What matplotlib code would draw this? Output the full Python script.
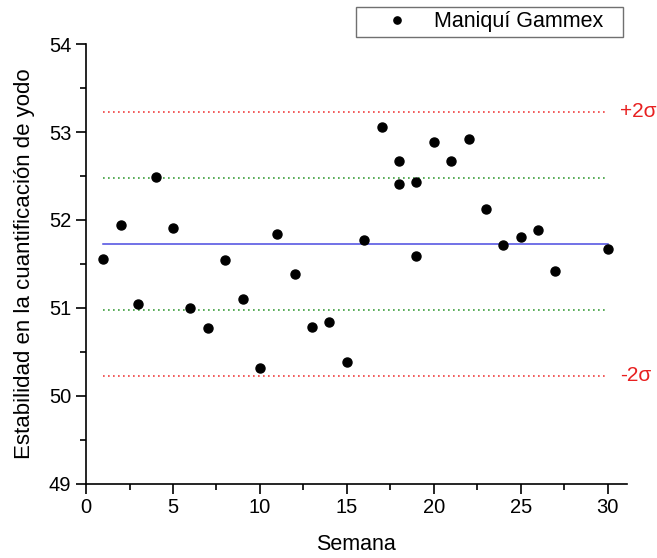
import matplotlib
matplotlib.use('Agg')
import matplotlib.pyplot as plt
from matplotlib.ticker import MultipleLocator

plt.rcParams['font.family'] = ['Liberation Sans', 'DejaVu Sans']

# === Data ===
semana = [1, 2, 3, 4, 5, 6, 7, 8, 9, 10, 11, 12, 13, 14, 15, 16, 17,
          18, 18, 19, 19, 20, 21, 22, 23, 24, 25, 26, 27, 30]
yodo = [51.56, 51.94, 51.05, 52.49, 51.91, 51.00, 50.77, 51.55, 51.10, 50.32,
        51.84, 51.38, 50.78, 50.84, 50.39, 51.77, 53.06, 52.67, 52.41, 52.43,
        51.59, 52.89, 52.67, 52.92, 52.12, 51.72, 51.81, 51.89, 51.42, 51.67]

media = 51.73
limites_1s = [50.98, 52.48]
limites_2s = [50.23, 53.23]
rango_lineas = [1, 30]

fig = plt.figure(figsize=(6.57, 5.58), dpi=100)
ax = fig.add_axes([0.131, 0.133, 0.823, 0.788])

ax.plot(semana, yodo, 'o', color='black', markersize=6.5, label='Maniquí Gammex', zorder=3)
ax.plot(rango_lineas, [media, media], color='#4a4ae0', linewidth=1.1)
for v in limites_1s:
    ax.plot(rango_lineas, [v, v], color='#3c9e3c', linestyle=(0, (1, 2)), linewidth=1.2)
for v in limites_2s:
    ax.plot(rango_lineas, [v, v], color='#f04040', linestyle=(0, (1, 2)), linewidth=1.2)

ax.text(30.7, limites_2s[1], '+2σ', color='#e82020', fontsize=15, va='center', ha='left', clip_on=False)
ax.text(30.7, limites_2s[0], '-2σ', color='#e82020', fontsize=15, va='center', ha='left', clip_on=False)

ax.set_xlim(0, 31.1)
ax.set_ylim(49, 54)
ax.set_xticks([0, 5, 10, 15, 20, 25, 30])
ax.set_yticks([49, 50, 51, 52, 53, 54])
ax.xaxis.set_minor_locator(MultipleLocator(2.5))
ax.yaxis.set_minor_locator(MultipleLocator(0.5))
ax.tick_params(which='major', direction='out', length=7, width=1.2, labelsize=14.5)
ax.tick_params(which='minor', direction='out', length=4, width=1.2)
ax.spines['top'].set_visible(False)
ax.spines['right'].set_visible(False)
for s in ['left', 'bottom']:
    ax.spines[s].set_linewidth(1.2)

ax.set_xlabel('Semana', fontsize=15.5, labelpad=12)
ax.set_ylabel('Estabilidad en la cuantificación de yodo', fontsize=16, labelpad=10)

fig.legend(loc='upper left', bbox_to_anchor=(356 / 657, 1 - 36 / 558, 267 / 657, 29 / 558),
           mode='expand', borderaxespad=0, fontsize=15.5,
           fancybox=False, edgecolor='#707070', framealpha=1, handlelength=3.4,
           handletextpad=0.0, borderpad=0.2, markerscale=0.8)

plt.savefig('out.png', dpi=100)
